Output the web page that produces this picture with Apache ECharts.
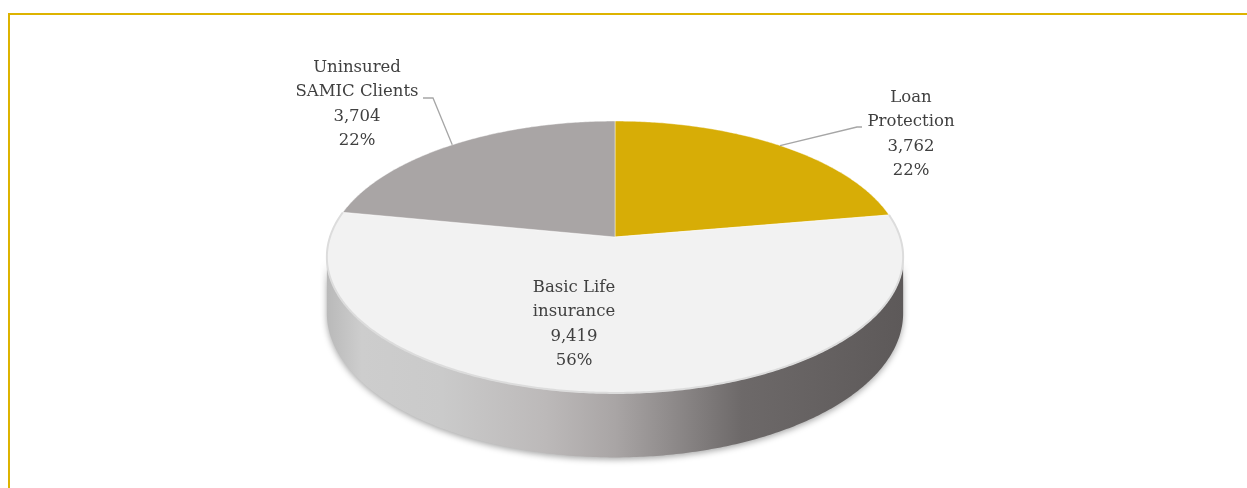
<!DOCTYPE html>
<html><head><meta charset="utf-8">
<script src="https://cdn.jsdelivr.net/npm/echarts/dist/echarts.min.js"></script>
<style>html,body{margin:0;padding:0;background:#fff}#c{width:1247px;height:488px}</style>
</head><body><div id="c"></div>
<script>
// ---- data ----
const categories = ['Loan Protection', 'Basic Life insurance', 'Uninsured SAMIC Clients'];
const labelLines = [['Loan', 'Protection'], ['Basic Life', 'insurance'], ['Uninsured', 'SAMIC Clients']];
const values = [3762, 9419, 3704];

// ---- styles ----
const colors = ['#D7AD06', '#F2F2F2', '#A9A5A5'];
const FONT = '"DejaVu Serif", "Liberation Serif", serif';

const chart = echarts.init(document.getElementById('c'));
const total = values.reduce((a, b) => a + b, 0);
const starts = [];
{ let acc = 0; values.forEach(v => { starts.push(acc / total * Math.PI * 2); acc += v; }); }

// pseudo-3D perspective geometry
const G = { cx: 615, cy: 237, AR: 285, BR: 133, r: 6.8, H: 55 };
function proj(t, h) {
  const X = Math.sin(t), Z = Math.cos(t);
  const p = G.r / (G.r + Z);
  return [G.cx + G.AR * X * p, G.cy - G.BR * Z * p + h * p];
}
function arc(a0, a1, h) {
  const n = Math.max(6, Math.ceil(Math.abs(a1 - a0) / 0.01));
  const pts = [];
  for (let k = 0; k <= n; k++) pts.push(proj(a0 + (a1 - a0) * k / n, h));
  return pts;
}
const thS = Math.acos(-1 / G.r);
const xMax = G.AR * Math.sin(thS) * G.r / (G.r + Math.cos(thS));

// label layout (style/position config)
const labelLayout = [
  { x: 911, top: 85, elbow: [[857, 127], [862, 127]] },
  { x: 574, top: 275, elbow: null },
  { x: 357, top: 55, elbow: [[433, 98], [423, 98]] }
];

const seriesData = values.map((v, i) => ({ name: categories[i], value: v }));

function sideItem(params, api) {
  const i = params.dataIndex;
  const a0 = starts[i], a1 = starts[i] + api.value(0) / total * Math.PI * 2;
  const lo = Math.max(a0, thS), hi = Math.min(a1, Math.PI * 2 - thS);
  if (hi <= lo) return { type: 'group', children: [] };
  const pts = arc(lo, hi, 0).concat(arc(hi, lo, G.H));
  const fill = new echarts.graphic.LinearGradient(G.cx - xMax, 0, G.cx + xMax, 0, [
    { offset: 0, color: '#B9B9B9' },
    { offset: 0.06, color: '#CDCDCD' },
    { offset: 0.2, color: '#CACACA' },
    { offset: 0.38, color: '#BCB9B9' },
    { offset: 0.5, color: '#A9A5A5' },
    { offset: 0.6, color: '#8E8A8A' },
    { offset: 0.72, color: '#6D6969' },
    { offset: 1, color: '#5D5959' }
  ], true);
  return {
    type: 'polygon', shape: { points: pts },
    style: { fill: fill, shadowBlur: 6, shadowColor: 'rgba(0,0,0,0.35)', shadowOffsetY: 2 }
  };
}

function topItem(params, api) {
  const i = params.dataIndex;
  const a0 = starts[i], a1 = starts[i] + api.value(0) / total * Math.PI * 2;
  const rim = arc(a0, a1, 0);
  const pts = [[G.cx, G.cy]].concat(rim);
  const children = [{
    type: 'polygon', shape: { points: pts },
    style: { fill: colors[i], stroke: 'rgba(255,255,255,0.55)', lineWidth: 0.8 }
  }];
  if (colors[i] === '#F2F2F2') {
    children.push({ type: 'polyline', shape: { points: rim }, style: { stroke: '#DCDCDC', lineWidth: 2, fill: null } });
  }
  return { type: 'group', children: children };
}

function fmt(v) { return v.toString().replace(/\B(?=(\d{3})+(?!\d))/g, ','); }

function labelItem(params, api) {
  const i = params.dataIndex;
  const v = api.value(0);
  const mid = starts[i] + v / total * Math.PI;
  const L = labelLayout[i];
  const text = labelLines[i].concat([fmt(v), Math.round(v / total * 100) + '%']).join('\n');
  const children = [];
  if (L.elbow) {
    children.push({
      type: 'polyline',
      shape: { points: [proj(mid, 0)].concat(L.elbow) },
      style: { stroke: '#A6A6A6', lineWidth: 1.3, fill: null }
    });
  }
  children.push({
    type: 'text',
    style: {
      x: L.x, y: L.top, text: text, align: 'center', verticalAlign: 'top',
      font: '16.5px ' + FONT, lineHeight: 24.5, fill: '#404040'
    }
  });
  return { type: 'group', children: children };
}

chart.setOption({
  animation: false,
  backgroundColor: '#ffffff',
  graphic: [{
    type: 'rect', shape: { x: 9, y: 14, width: 1400, height: 800 },
    style: { fill: null, stroke: '#DDB300', lineWidth: 2 }, silent: true, z: 0
  }],
  series: [
    { type: 'custom', coordinateSystem: 'none', renderItem: sideItem, data: seriesData, z: 1 },
    { type: 'custom', coordinateSystem: 'none', renderItem: topItem, data: seriesData, z: 2 },
    { type: 'custom', coordinateSystem: 'none', renderItem: labelItem, data: seriesData, z: 3 }
  ]
});
</script>
</body></html>
